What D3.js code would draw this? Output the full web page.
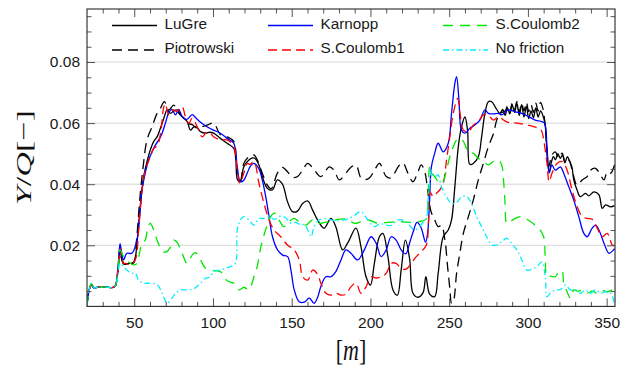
<!DOCTYPE html>
<html>
<head>
<meta charset="utf-8">
<script src="https://cdn.jsdelivr.net/npm/d3@7"></script>
<style>
  body { margin: 0; background: #fff; }
  svg { display: block; }
</style>
</head>
<body>
<svg id="chart" width="621" height="367"></svg>
<script>
// ---- data: [distance along track (m), Y/Q (-)] ----
const lugre = [[20,0],[21,0.0045],[22.8,0.0072],[24.5,0.006],[27,0.0063],[32,0.0063],[37.5,0.0064],[39.5,0.011],[41,0.019],[42.2,0.015],[43.5,0.0138],[46.4,0.0141],[49.6,0.0142],[51.7,0.0207],[53.8,0.0326],[56,0.0425],[58.1,0.0474],[60.2,0.0512],[62.4,0.054],[64.5,0.0555],[66.6,0.0583],[68.8,0.0616],[70.9,0.0643],[73,0.0632],[75.1,0.064],[77.2,0.0643],[80.4,0.0621],[83.6,0.0605],[85.7,0.0577],[87.9,0.0588],[90,0.0585],[92.1,0.0572],[95.3,0.0567],[98,0.057],[100.4,0.0567],[104.7,0.055],[109,0.0534],[113.2,0.0517],[114.5,0.048],[115.6,0.0414],[117.4,0.0408],[119.6,0.0457],[122.8,0.0479],[125,0.0486],[126.5,0.0485],[129.2,0.0463],[131.3,0.0425],[134.5,0.0387],[137.7,0.0381],[140.9,0.0414],[144.1,0.04],[147.3,0.0343],[150.5,0.031],[153.7,0.0312],[156.9,0.0337],[160.2,0.0345],[163.3,0.0315],[166.4,0.0283],[170.6,0.0256],[174.9,0.0288],[178,0.0261],[182.3,0.0185],[185.5,0.0207],[190.8,0.0256],[194,0.0195],[197.2,0.0097],[200,0.007],[202.5,0.0141],[205.7,0.0228],[207.9,0.0239],[211.1,0.0163],[214.3,0.0054],[217.1,0.0037],[219.5,0.0119],[222.2,0.0217],[224.9,0.0155],[227,0.0043],[230.2,0.003],[233.4,0.0045],[235.2,0.0097],[237.6,0.004],[240.8,0.0032],[243,0.0108],[246.2,0.0228],[249.4,0.025],[251.5,0.0283],[253.6,0.0392],[255.8,0.0523],[257.9,0.059],[260,0.062],[261.7,0.0575],[263.1,0.0465],[265.3,0.0468],[268.5,0.049],[270.6,0.0555],[272.7,0.0632],[274.9,0.067],[277,0.067],[279.1,0.0654],[282.3,0.0632],[284,0.0645],[285.5,0.0625],[287,0.065],[288.5,0.063],[290,0.066],[291.5,0.0635],[293,0.0665],[294.5,0.0625],[296,0.066],[297.5,0.062],[299,0.0655],[300.5,0.0615],[302,0.064],[303.5,0.0618],[305,0.065],[306.5,0.062],[308,0.064],[309.5,0.0625],[310.8,0.06],[312.2,0.05],[313.5,0.044],[314.8,0.047],[316.2,0.049],[317.5,0.048],[319,0.05],[320.5,0.0485],[322,0.0495],[323.5,0.047],[325,0.049],[326.5,0.0475],[328,0.0455],[329.1,0.0414],[331.2,0.0381],[333.3,0.0359],[336.5,0.037],[338.7,0.0362],[341.9,0.0375],[345.1,0.0365],[347.2,0.0321],[349.3,0.0332],[352.5,0.0326],[355,0.033]];

const piotrowski = [[20,0],[21,0.0045],[22.8,0.0072],[24.5,0.006],[27,0.0063],[32,0.0063],[37.5,0.0064],[39.5,0.011],[41,0.0192],[42.2,0.0152],[43.5,0.014],[46.4,0.0142],[49.6,0.0145],[51.5,0.022],[53.5,0.035],[55.5,0.045],[58.1,0.0545],[61.3,0.0588],[64.5,0.0632],[66.6,0.0648],[69.1,0.067],[71.9,0.0643],[75.1,0.0659],[78.3,0.0632],[81.5,0.0616],[83.6,0.06],[86.8,0.0595],[90,0.0583],[93.2,0.0588],[96.2,0.0593],[100.4,0.06],[104.7,0.0562],[109,0.0555],[113.2,0.054],[114.8,0.047],[116,0.042],[117.4,0.0412],[119.6,0.0468],[122.8,0.049],[126,0.0496],[128.1,0.048],[131.3,0.0436],[134.5,0.0397],[137,0.0385],[140.9,0.0436],[144.1,0.0455],[147.3,0.0441],[150.5,0.0422],[153.7,0.0425],[156.9,0.0446],[160.2,0.0468],[164.4,0.0446],[168.5,0.0425],[173.9,0.0457],[177,0.0445],[180.2,0.0414],[184.4,0.0436],[187.5,0.0455],[190.8,0.0463],[194,0.042],[197,0.0415],[199.3,0.042],[202.5,0.0445],[205.7,0.0468],[210,0.0425],[212.8,0.042],[215.3,0.0436],[218,0.046],[220.6,0.047],[223.8,0.0436],[227,0.0408],[230.2,0.0441],[232.3,0.0463],[234.5,0.044],[236.6,0.037],[238.5,0.031],[240.8,0.0283],[243,0.0261],[245.1,0.0265],[247.3,0.0217],[249,0.013],[250.5,0.0054],[251.5,0.001],[252.6,0.0015],[254.7,0.0108],[256.8,0.0175],[259,0.0239],[262.2,0.0294],[265.3,0.0348],[268.5,0.0414],[271.7,0.0468],[274.9,0.0523],[278.1,0.0565],[280.2,0.061],[282.3,0.0632],[285.5,0.064],[287,0.0655],[288.5,0.0635],[290,0.0665],[291.5,0.0645],[293,0.067],[294.5,0.0635],[296,0.0665],[297.5,0.064],[299,0.0668],[300.5,0.0638],[302,0.066],[303.5,0.0635],[305,0.0665],[306.5,0.064],[308,0.0668],[309.5,0.0648],[310.8,0.06],[312,0.052],[313.2,0.0457],[315.3,0.0496],[317.4,0.0506],[319.6,0.0485],[321.7,0.0502],[323.8,0.047],[326,0.0479],[328.1,0.0446],[331.2,0.0397],[334.5,0.0414],[337.6,0.0425],[339.8,0.0446],[342.9,0.0452],[346.1,0.043],[348.3,0.0414],[350.4,0.0441],[352.5,0.0436],[355,0.0463]];

const karnopp = [[20,0],[21,0.0045],[22.8,0.007],[24.5,0.006],[27,0.0063],[32,0.0063],[37.5,0.0064],[39.5,0.012],[41,0.0205],[42.2,0.017],[43.2,0.0152],[45.3,0.0174],[48.5,0.0174],[51.7,0.0217],[53.5,0.03],[54.9,0.038],[57,0.0437],[59.2,0.048],[61.3,0.0506],[63.4,0.0528],[65.6,0.0545],[67.7,0.0567],[69.8,0.06],[71.9,0.0634],[74,0.0645],[76.2,0.0627],[78.3,0.0645],[80.4,0.0621],[83.4,0.0612],[86.8,0.0628],[88.9,0.0618],[92.1,0.0603],[96.2,0.0588],[100.4,0.0577],[104.7,0.0567],[109,0.055],[113.2,0.0534],[115.4,0.0457],[117.4,0.0408],[119.6,0.0413],[121.7,0.0436],[123.9,0.046],[126,0.0468],[129.2,0.045],[131.3,0.0414],[133.5,0.0359],[135.6,0.0294],[137.8,0.0228],[141,0.0185],[144.2,0.0168],[147.4,0.0163],[149.5,0.0119],[151.6,0.0054],[154.8,0.0015],[158,0.0014],[161.2,0.0027],[164.2,0.001],[166.5,0.003],[168.5,0.0065],[171.7,0.0097],[174.9,0.0097],[178,0.0114],[181.3,0.0152],[184.4,0.0185],[187.6,0.0174],[191.9,0.0152],[196.1,0.0185],[200.4,0.0228],[203.6,0.0207],[206.8,0.0163],[210,0.0185],[213.2,0.0228],[216.3,0.0217],[219.5,0.0185],[222.5,0.0172],[225,0.021],[227.2,0.0245],[229.5,0.0275],[232,0.026],[235,0.021],[236.3,0.024],[237.5,0.034],[238.7,0.0457],[240.8,0.0501],[243,0.0534],[246.2,0.0506],[249.4,0.0534],[251.5,0.0632],[253.6,0.073],[254.7,0.0752],[256.2,0.0676],[257.8,0.0577],[260,0.0567],[263.1,0.0583],[266.3,0.0594],[269.5,0.061],[272.7,0.0643],[274.9,0.0632],[278.1,0.063],[281.3,0.0632],[283.4,0.0627],[287.6,0.0643],[291.9,0.0637],[296.1,0.0632],[300.4,0.0621],[304.6,0.061],[308.9,0.0605],[310.6,0.06],[312.1,0.0523],[313.5,0.0436],[315.3,0.0463],[317.4,0.0446],[320.6,0.0457],[322.7,0.0436],[325.9,0.0392],[329.1,0.0348],[332.3,0.0294],[335.5,0.0239],[337.6,0.0228],[340.8,0.0256],[342.9,0.0266],[345.1,0.025],[348.3,0.0207],[351.5,0.0174],[354.7,0.0187],[355,0.0189]];

const sCoulomb1 = [[20,0],[21,0.0045],[22.8,0.007],[24.5,0.006],[27,0.0063],[32,0.0063],[37.5,0.0064],[39.5,0.011],[41,0.019],[42.2,0.016],[43.2,0.0141],[44.5,0.0141],[47.4,0.0136],[50.6,0.0152],[52.8,0.025],[54.9,0.038],[57,0.0446],[60.2,0.049],[62.4,0.0517],[64.9,0.0528],[67,0.0577],[68.8,0.0654],[69.8,0.0663],[71.9,0.0627],[74.7,0.0643],[77.2,0.0638],[80.4,0.0654],[82.5,0.0621],[84.7,0.06],[86.8,0.0616],[90,0.0588],[93.2,0.0555],[95.3,0.0567],[97.5,0.0572],[100.4,0.0555],[104.7,0.0545],[109,0.0545],[113.2,0.0523],[115.4,0.0446],[117,0.0403],[119.6,0.0436],[121.7,0.0468],[123.5,0.0465],[126,0.0474],[129.2,0.0403],[132.4,0.0337],[135.6,0.0283],[138.8,0.025],[143,0.0228],[147.3,0.0201],[151.6,0.0185],[154.8,0.0152],[157,0.0097],[160.2,0.0086],[163.3,0.0119],[166.4,0.0105],[168.5,0.0076],[171.7,0.0043],[174.9,0.0037],[178,0.0043],[181.3,0.0037],[184.4,0.004],[187.6,0.0064],[190.8,0.0076],[194,0.0043],[197.2,0.0064],[200.4,0.0097],[203.6,0.0093],[206.8,0.0097],[210,0.0108],[213.2,0.0141],[216.3,0.0141],[219.5,0.0125],[222.7,0.0122],[225.9,0.0141],[229.1,0.0163],[232.3,0.0179],[235.5,0.0201],[236.8,0.0272],[237.8,0.0375],[239.8,0.0359],[241.9,0.037],[244,0.0381],[246.2,0.0403],[248.3,0.0479],[250.4,0.0555],[252.6,0.0632],[255.4,0.0681],[256.9,0.0632],[259,0.0577],[262.2,0.0572],[265.4,0.0594],[268.6,0.0605],[271.7,0.0627],[274.9,0.0625],[278.1,0.061],[281.3,0.0621],[284.5,0.061],[287.6,0.0602],[293.5,0.06],[298.8,0.0594],[304.2,0.0588],[308.4,0.0577],[310,0.0545],[312.1,0.0468],[313.5,0.0408],[315.3,0.0436],[318.5,0.0468],[321.7,0.0474],[324.9,0.0446],[328,0.0381],[331.3,0.0326],[334.5,0.0294],[337.6,0.0288],[340.8,0.0285],[344,0.0256],[347.2,0.0228],[350.4,0.0239],[353.6,0.0201],[355,0.02]];

const sCoulomb2 = [[20,0],[21,0.0045],[22.8,0.0075],[24.5,0.006],[27,0.0063],[32,0.0063],[37.5,0.0064],[39.5,0.011],[41,0.0185],[43.2,0.0163],[45.3,0.0152],[47.4,0.0141],[49.6,0.0136],[51.7,0.014],[52.8,0.016],[54.9,0.0207],[57,0.0217],[58.7,0.0261],[60.2,0.0272],[62.4,0.025],[64.5,0.0217],[66.6,0.0192],[68.8,0.0178],[70.9,0.018],[73,0.0195],[75.1,0.0217],[77.2,0.021],[80.4,0.0174],[83.6,0.0141],[86.8,0.0168],[88.9,0.0176],[92.1,0.0152],[95.3,0.0125],[100.4,0.0117],[104.7,0.0114],[109,0.0084],[113.2,0.0076],[116.4,0.0054],[119.6,0.0062],[122.8,0.0055],[126,0.0097],[128.1,0.013],[130.2,0.019],[133.4,0.025],[136.6,0.0294],[139.1,0.0305],[141.9,0.0283],[145.1,0.0261],[148.3,0.0277],[151.5,0.0288],[154.7,0.0277],[159,0.0266],[163.3,0.0283],[167.5,0.0272],[171,0.0275],[174.9,0.0277],[179.1,0.0285],[185.5,0.0285],[189.8,0.0272],[194,0.0277],[199.3,0.0282],[204.6,0.0272],[208.9,0.0274],[215.3,0.0277],[220.6,0.0277],[225.9,0.0274],[230.2,0.0277],[234.4,0.0282],[235.8,0.029],[236.6,0.0359],[237.6,0.0457],[238.7,0.0436],[240.8,0.0425],[244,0.0403],[246.2,0.041],[248.3,0.0446],[250.4,0.049],[252.6,0.0523],[254.7,0.0545],[256.8,0.055],[259,0.054],[262.2,0.0506],[265.3,0.0501],[268.5,0.0485],[271.7,0.0474],[274.9,0.0463],[278.1,0.0475],[281.3,0.0479],[283.4,0.0462],[284.5,0.0414],[285.5,0.0337],[286.6,0.0272],[288.7,0.0277],[291.9,0.0288],[296.1,0.0294],[300.4,0.0282],[304.6,0.0266],[307.8,0.025],[310,0.0228],[311,0.0163],[312.1,0.0097],[314.2,0.0099],[317.4,0.0097],[319.6,0.0114],[321.7,0.0116],[322.7,0.0076],[324.9,0.0048],[327,0.0027],[329.1,0.0054],[331.3,0.005],[334.5,0.0052],[337.6,0.0043],[340.8,0.005],[344,0.0043],[347.2,0.0052],[350.4,0.0048],[353.6,0.0054],[355,0.0056]];

const noFriction = [[20,0],[21,0.0045],[22.8,0.0075],[24.5,0.006],[27,0.0063],[32,0.0063],[37.5,0.0064],[39.5,0.0095],[41,0.0141],[43.2,0.013],[45.3,0.0119],[48.5,0.0108],[50.6,0.011],[52.8,0.0086],[56,0.0076],[60.2,0.0076],[64.5,0.0072],[67.7,0.0043],[70.9,0.001],[73,0.002],[76.2,0.0043],[79.4,0.0054],[83.6,0.0054],[87.9,0.0058],[92.1,0.0076],[95.3,0.0092],[98.3,0.0097],[100.4,0.0115],[104.7,0.0119],[108,0.0125],[111,0.013],[114.2,0.0141],[115.4,0.025],[117.4,0.0283],[119.6,0.0294],[122.8,0.0283],[126,0.0266],[129.2,0.0288],[132.4,0.0288],[135.6,0.0296],[138.8,0.0285],[143,0.0296],[146.2,0.029],[149.4,0.0272],[152.6,0.0275],[155.8,0.0266],[158,0.0268],[160.2,0.025],[162.3,0.0228],[164.2,0.0261],[167.4,0.0283],[171.7,0.0287],[175,0.0283],[178,0.028],[183.4,0.0283],[188.7,0.0294],[194,0.031],[198.3,0.0283],[202.5,0.0261],[205.7,0.027],[208.9,0.0268],[213.2,0.0265],[217.4,0.0283],[221.7,0.028],[224.9,0.0265],[228,0.025],[232.3,0.0268],[235.5,0.029],[236.6,0.035],[237.6,0.0403],[238.7,0.0446],[240.8,0.0425],[243,0.043],[245.1,0.0392],[248.3,0.0359],[251.5,0.0337],[254.7,0.034],[257.9,0.0359],[261.1,0.036],[264.2,0.0337],[267.4,0.0294],[270.6,0.0261],[273.8,0.0228],[277,0.0201],[280.2,0.0201],[283.4,0.0212],[286.6,0.0223],[289.8,0.0205],[293,0.0185],[296.1,0.0152],[299.3,0.0119],[302.5,0.0122],[305.7,0.013],[308.9,0.0146],[311,0.0097],[312.1,0.0032],[314.2,0.0043],[317.4,0.0054],[320.6,0.0055],[323.8,0.007],[327,0.0054],[330.2,0.0055],[333.4,0.0043],[336.5,0.0054],[339.7,0.0043],[342.9,0.0054],[346.1,0.0043],[349.3,0.0048],[352.5,0.0043],[355,0.001]];

const seriesNames = ["LuGre", "Piotrowski", "Karnopp", "S.Coulomb1", "S.Coulomb2", "No friction"];
const xTickValues = [50, 100, 150, 200, 250, 300, 350];
const yTickValues = [0.02, 0.04, 0.06, 0.08];
const yTickLabels = ["0.02", "0.04", "0.06", "0.08"];

// ---- styling ----
const seriesData = [lugre, piotrowski, karnopp, sCoulomb1, sCoulomb2, noFriction];
const seriesStyle = [
  { color: "#000000", dash: null },
  { color: "#000000", dash: "10,6" },
  { color: "#0000ff", dash: null },
  { color: "#ff0000", dash: "9,5" },
  { color: "#00e600", dash: "10,7" },
  { color: "#00eeff", dash: "6,3,1.5,3" }
];

const W = 621, H = 367;
const plot = { left: 87, right: 615, top: 9, bottom: 306.4 };
const sansFont = "'Liberation Sans', Arial, sans-serif";
const serifFont = "'Liberation Serif', 'Times New Roman', serif";

const x = d3.scaleLinear().domain([20, 355.3]).range([plot.left, plot.right]);
const y = d3.scaleLinear().domain([0, 0.09735]).range([plot.bottom, plot.top]);

const svg = d3.select("#chart");

// horizontal grid at labelled values
svg.append("g")
  .selectAll("line")
  .data(yTickValues)
  .join("line")
  .attr("x1", plot.left).attr("x2", plot.right)
  .attr("y1", d => y(d)).attr("y2", d => y(d))
  .attr("stroke", "#d6d6d6").attr("stroke-width", 1);

// clip region for the curves
svg.append("defs").append("clipPath").attr("id", "plotClip")
  .append("rect")
  .attr("x", plot.left).attr("y", plot.top)
  .attr("width", plot.right - plot.left).attr("height", plot.bottom - plot.top);

const line = d3.line()
  .x(d => x(d[0]))
  .y(d => y(d[1]))
  .curve(d3.curveCatmullRom.alpha(0.5));

const curves = svg.append("g").attr("clip-path", "url(#plotClip)");
seriesData.forEach((data, i) => {
  const st = seriesStyle[i];
  curves.append("path")
    .attr("d", line(data))
    .attr("fill", "none")
    .attr("stroke", st.color)
    .attr("stroke-width", 1.3)
    .attr("stroke-linejoin", "round")
    .attr("stroke-dasharray", st.dash);
});

// ---- axes: inward ticks on all four sides ----
const xMinor = d3.range(30, 356, 10).filter(v => v % 50 !== 0);
const yMinor = d3.range(1, 20).map(k => k * 0.005).filter(v => Math.abs(v / 0.02 - Math.round(v / 0.02)) > 1e-6);

function styleAxis(g) {
  g.select(".domain").remove();
  g.selectAll(".tick line").attr("stroke", "#555").attr("stroke-width", 1);
  g.selectAll(".tick text")
    .attr("fill", "#1a1a1a")
    .style("font-family", sansFont)
    .style("font-size", "15.5px");
}

// bottom
svg.append("g").attr("transform", `translate(0,${plot.bottom})`)
  .call(d3.axisBottom(x).tickValues(xTickValues).tickSize(-8).tickPadding(10.5).tickFormat(d3.format("d")))
  .call(styleAxis);
svg.append("g").attr("transform", `translate(0,${plot.bottom})`)
  .call(d3.axisBottom(x).tickValues(xMinor).tickSize(-4.5).tickFormat(""))
  .call(styleAxis);
// top
svg.append("g").attr("transform", `translate(0,${plot.top})`)
  .call(d3.axisTop(x).tickValues(xTickValues).tickSize(-8).tickFormat(""))
  .call(styleAxis);
svg.append("g").attr("transform", `translate(0,${plot.top})`)
  .call(d3.axisTop(x).tickValues(xMinor).tickSize(-4.5).tickFormat(""))
  .call(styleAxis);
// left
svg.append("g").attr("transform", `translate(${plot.left},0)`)
  .call(d3.axisLeft(y).tickValues(yTickValues).tickSize(-8).tickPadding(7)
    .tickFormat((d, i) => yTickLabels[i]))
  .call(styleAxis);
svg.append("g").attr("transform", `translate(${plot.left},0)`)
  .call(d3.axisLeft(y).tickValues(yMinor).tickSize(-4.5).tickFormat(""))
  .call(styleAxis);
// right
svg.append("g").attr("transform", `translate(${plot.right},0)`)
  .call(d3.axisRight(y).tickValues(yTickValues).tickSize(-8).tickFormat(""))
  .call(styleAxis);
svg.append("g").attr("transform", `translate(${plot.right},0)`)
  .call(d3.axisRight(y).tickValues(yMinor).tickSize(-4.5).tickFormat(""))
  .call(styleAxis);

// frame
svg.append("rect")
  .attr("x", plot.left).attr("y", plot.top)
  .attr("width", plot.right - plot.left).attr("height", plot.bottom - plot.top)
  .attr("fill", "none").attr("stroke", "#262626").attr("stroke-width", 1.1);

// ---- axis titles ----
const xTitle = svg.append("text")
  .attr("transform", `translate(${(plot.left + plot.right) / 2},360) scale(1,1.3)`)
  .attr("text-anchor", "middle")
  .style("font-family", serifFont)
  .style("font-size", "22px")
  .attr("fill", "#111");
xTitle.append("tspan").text("[");
xTitle.append("tspan").style("font-style", "italic").text("m");
xTitle.append("tspan").text("]");

const yTitle = svg.append("text")
  .attr("transform", `translate(31,${(plot.top + plot.bottom) / 2}) rotate(-90)`)
  .attr("text-anchor", "middle")
  .style("font-family", serifFont)
  .style("font-size", "22px")
  .attr("fill", "#111")
  .attr("textLength", 95)
  .attr("lengthAdjust", "spacingAndGlyphs");
yTitle.append("tspan").style("font-style", "italic").text("Y");
yTitle.append("tspan").text("/");
yTitle.append("tspan").style("font-style", "italic").text("Q");
yTitle.append("tspan").text("[\u2212]");

// ---- legend: three columns, two rows ----
const legendCols = [112, 268, 443];
const legendRows = [25.5, 50];
const legendLineLen = 45;
seriesNames.forEach((name, i) => {
  const col = Math.floor(i / 2), row = i % 2;
  const lx = legendCols[col], ly = legendRows[row];
  const st = seriesStyle[i];
  const g = svg.append("g");
  g.append("line")
    .attr("x1", lx).attr("x2", lx + legendLineLen)
    .attr("y1", ly).attr("y2", ly)
    .attr("stroke", st.color).attr("stroke-width", 1.3)
    .attr("stroke-dasharray", st.dash);
  g.append("text")
    .attr("x", lx + legendLineLen + 7.5)
    .attr("y", ly + 3)
    .style("font-family", sansFont)
    .style("font-size", "15.3px")
    .attr("fill", "#1a1a1a")
    .text(name);
});
</script>
</body>
</html>
